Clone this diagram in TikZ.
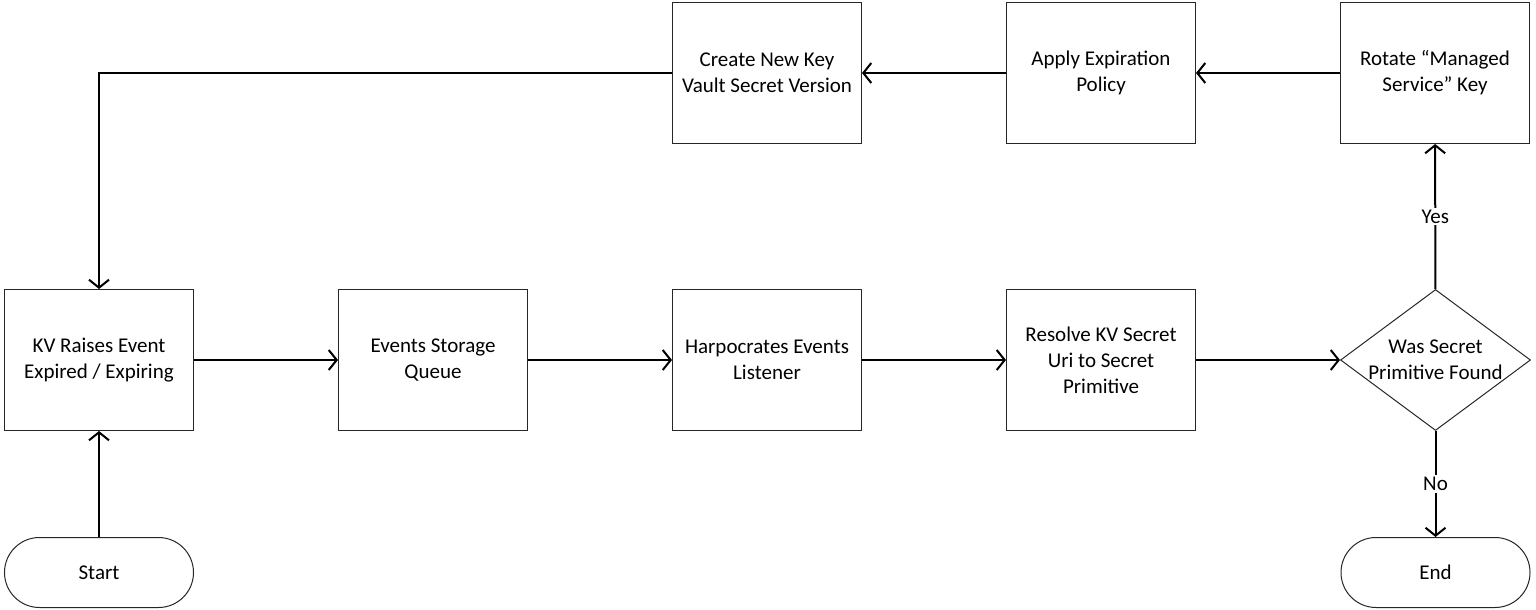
\documentclass[tikz,border=0pt]{standalone}
\usepackage{fontspec}
\setmainfont{Carlito}
\usetikzlibrary{arrows.meta,positioning,shapes.geometric}

\tikzset{
	box/.style={draw=black!85, line width=1pt, minimum width=189pt, minimum height=141pt, align=center, inner sep=0pt},
	term/.style={box, minimum height=70pt, rounded corners=35pt},
	decision/.style={diamond, draw=black!85, line width=1pt, minimum width=190pt, minimum height=141pt, inner sep=0pt},
	flow/.style={-{Straight Barb[length=8pt,width=20pt]}, line width=2pt},
	answer/.style={fill=white, inner sep=2pt}
}

\begin{document}
\begin{tikzpicture}[font=\fontsize{21}{26}\selectfont, node distance=144pt and 144pt]
	\useasboundingbox (0,0) rectangle (1536pt,-610pt);
	\node[box] (kv) at (99pt,-360pt) {KV Raises Event\\Expired / Expiring};
	\node[box, right=of kv] (queue) {Events Storage\\Queue};
	\node[box, right=of queue] (listener) {Harpocrates Events\\Listener};
	\node[box, right=of listener] (resolve) {Resolve KV Secret\\Uri to Secret\\Primitive};
	\node[decision, right=of resolve] (found) {};
	\node[align=center] (foundtext) at (found) {Was Secret\\Primitive Found};
	\node[box, above=145pt of listener] (create) {Create New Key\\Vault Secret Version};
	\node[box, right=of create] (apply) {Apply Expiration\\Policy};
	\node[box, right=of apply] (rotate) {Rotate “Managed\\Service” Key};
	\node[term, below=106pt of kv] (start) {Start};
	\node[term, below=106pt of found] (end) {End};
	\path[flow]
	(start) edge (kv)
	(kv) edge (queue)
	(queue) edge (listener)
	(listener) edge (resolve)
	(resolve) edge (found)
	(found) edge node [answer] {Yes} (rotate)
	(found) edge node [answer] {No} (end)
	(rotate) edge (apply)
	(apply) edge (create)
	;
	\draw[flow] (create) -| (kv);
\end{tikzpicture}
\end{document}
